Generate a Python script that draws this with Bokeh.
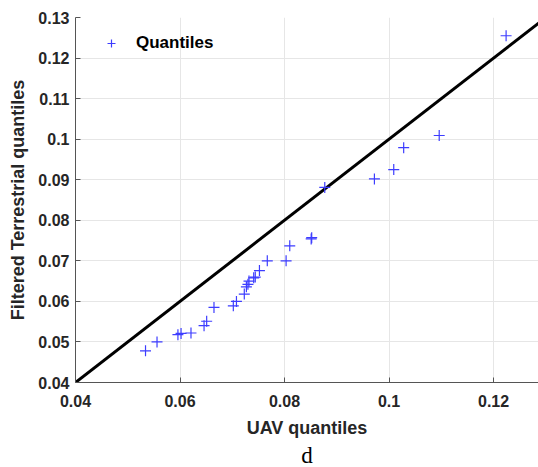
from bokeh.plotting import figure
from bokeh.models import Range1d, FixedTicker, Legend, LegendItem, Title
from bokeh.embed import file_html
from bokeh.resources import INLINE

uav_q = [0.0534, 0.0556, 0.0596, 0.0602, 0.0621, 0.0646, 0.0651, 0.0665, 0.0702, 0.0708,
         0.0723, 0.0727, 0.0730, 0.0732, 0.0741, 0.0744, 0.0752, 0.0767, 0.0803, 0.0810,
         0.0851, 0.0852, 0.0877, 0.0972, 0.1009, 0.1028, 0.1096, 0.1224]
terr_q = [0.0478, 0.0500, 0.0518, 0.0521, 0.0522, 0.0540, 0.0551, 0.0585, 0.0589, 0.0600,
          0.0618, 0.0636, 0.0642, 0.0650, 0.0658, 0.0660, 0.0676, 0.0700, 0.0700, 0.0737,
          0.0754, 0.0757, 0.0881, 0.0902, 0.0925, 0.0979, 0.1009, 0.1255]
ref_x = [0.04, 0.13]
ref_y = [0.04, 0.13]
x_ticks = [0.04, 0.06, 0.08, 0.1, 0.12]
y_ticks = [0.04, 0.05, 0.06, 0.07, 0.08, 0.09, 0.1, 0.11, 0.12, 0.13]

FONT = "Liberation Sans"
TXT = "#262626"

p = figure(frame_width=463, frame_height=365, output_backend="svg", toolbar_location=None,
           x_range=Range1d(0.04, 0.1286), y_range=Range1d(0.04, 0.13),
           min_border_left=75, min_border_right=0, min_border_top=17, min_border_bottom=0)
p.outline_line_color = None
p.background_fill_color = "white"

p.line(ref_x, ref_y, line_color="black", line_width=3)
r = p.scatter(uav_q, terr_q, marker="cross", size=11, line_color="#3d3dff", line_width=1.2)

legend = Legend(items=[LegendItem(label="Quantiles", renderers=[r])],
                border_line_color=None, background_fill_alpha=0,
                label_text_font=FONT, label_text_font_style="bold", label_text_font_size="17px",
                label_text_color="black", glyph_width=20, glyph_height=20, label_standoff=15,
                margin=0, padding=0, spacing=0, location=(26, 329))
p.add_layout(legend)

for ax, ticks in ((p.xaxis[0], x_ticks), (p.yaxis[0], y_ticks)):
    ax.ticker = FixedTicker(ticks=ticks)
    ax.minor_tick_line_color = None
    ax.major_tick_in = 5
    ax.major_tick_out = 0
    ax.axis_line_color = "#555555"
    ax.major_tick_line_color = "#555555"
    ax.major_label_text_font = FONT
    ax.major_label_text_font_style = "bold"
    ax.major_label_text_font_size = "16px"
    ax.major_label_text_color = TXT
    ax.axis_label_text_font = FONT
    ax.axis_label_text_font_style = "bold"
    ax.axis_label_text_font_size = "18px"
    ax.axis_label_text_color = TXT

p.xaxis.axis_label = "UAV quantiles"
p.yaxis.axis_label = "Filtered Terrestrial quantiles"
p.xaxis.major_label_standoff = 12
p.yaxis.major_label_standoff = 6
p.xaxis.axis_label_standoff = 8
p.yaxis.axis_label_standoff = 7

p.xgrid.grid_line_color = "#e6e6e6"
p.ygrid.grid_line_color = "#e6e6e6"

cap = Title(text="d", align="center", text_font="Liberation Serif", text_font_size="23px",
            text_font_style="normal", text_color="black", standoff=0)
p.add_layout(cap, "below")

open("out.html", "w").write(file_html(p, INLINE))
